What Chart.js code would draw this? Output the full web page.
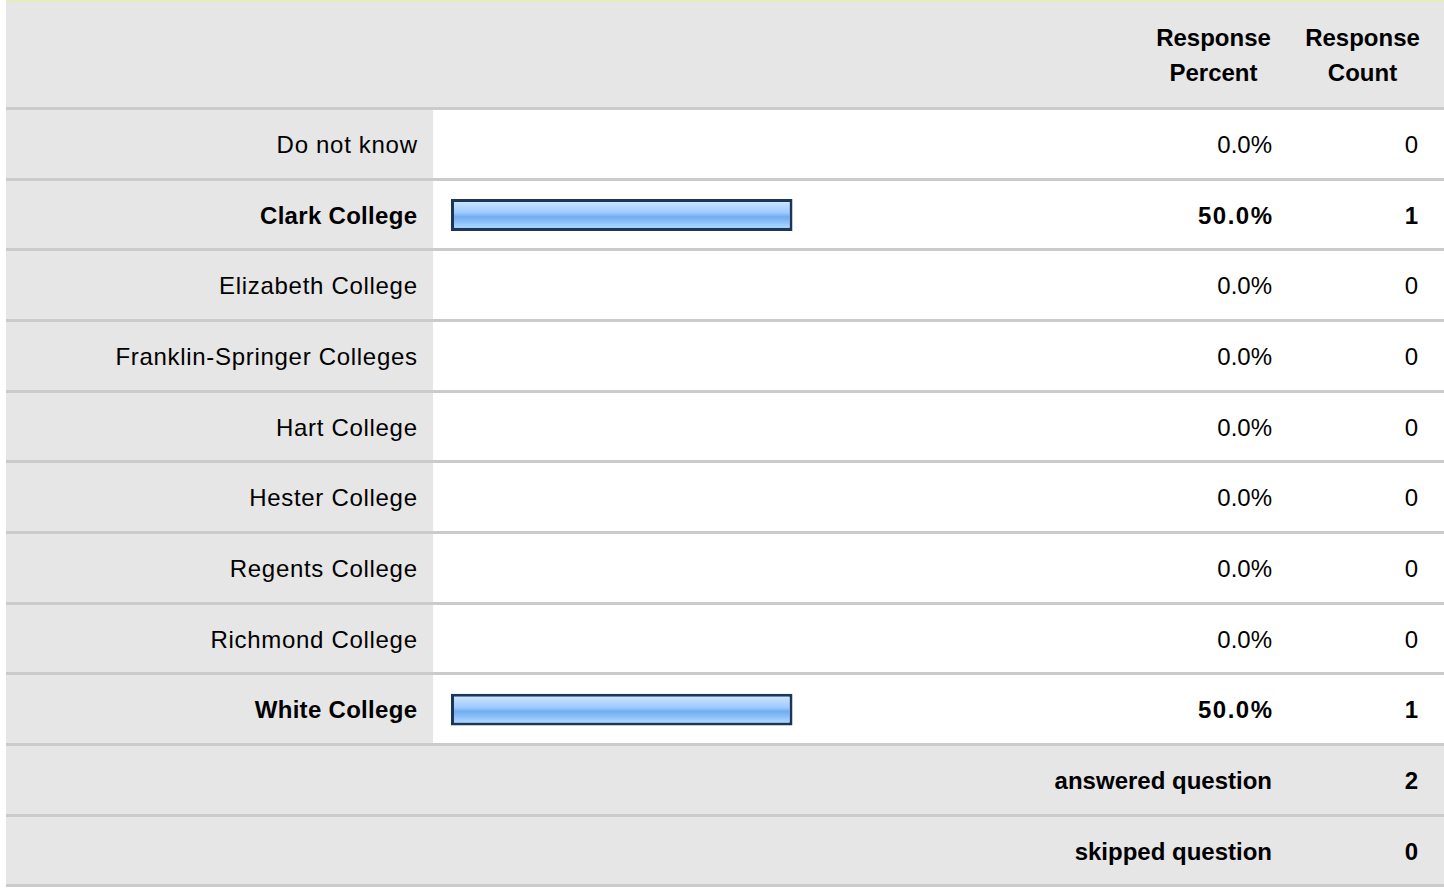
<!DOCTYPE html>
<html>
<head>
<meta charset="utf-8">
<script src="https://cdn.jsdelivr.net/npm/chart.js@4.4.0/dist/chart.umd.min.js"></script>
<style>
  body { margin: 0; background: #fff; font-family: "Liberation Sans", Arial, sans-serif; color: #000; }
  #wrap { position: relative; width: 1444px; height: 888px; overflow: hidden; }
  .topline { position: absolute; left: 6px; top: 0; width: 1438px; height: 2px; background: #e4edbf; }
  .row { position: absolute; left: 6px; width: 1438px; box-sizing: border-box; border-bottom: 3px solid #cbcbcb; display: flex; font-size: 24px; }
  .cell { box-sizing: border-box; display: flex; align-items: center; justify-content: flex-end; height: 100%; padding-top: 2px; }
  .c1 { width: 427px; padding-right: 16px; }
  .c1.lbl { letter-spacing: 0.7px; padding-right: 15.3px; }
  .c1.lbl.bold { letter-spacing: 0.3px; padding-right: 15.7px; }
  .c2 { width: 707px; }
  .c3 { width: 147px; padding-right: 15px; }
  .c4 { width: 157px; padding-right: 26px; }
  .grey { background: #e6e6e6; }
  .bold { font-weight: bold; }
  .pct.bold { letter-spacing: 1.5px; padding-right: 13.5px; }
  .head .cell { justify-content: center; text-align: center; font-weight: bold; line-height: 35px; padding-top: 0; }
  .head .c3 { padding-right: 0; }
  .head .c4 { padding-right: 6px; }
  #chartBox { position: absolute; left: 433px; top: 108.5px; width: 707px; height: 636px; }
</style>
</head>
<body>
<div id="wrap">
  <div class="topline"></div>
  <div id="chartBox"><canvas id="chart"></canvas></div>
</div>
<script>
// valores
const categorias = ["Do not know", "Clark College", "Elizabeth College", "Franklin-Springer Colleges",
  "Hart College", "Hester College", "Regents College", "Richmond College", "White College"];
const porcentajes = [0, 50, 0, 0, 0, 0, 0, 0, 50];
const conteos = [0, 1, 0, 0, 0, 0, 0, 0, 1];
const encabezados = ["Response<br>Percent", "Response<br>Count"];
const resumenEtiquetas = ["answered question", "skipped question"];
const resumenValores = [2, 0];

const wrap = document.getElementById("wrap");
const filaAlto = 70.68;

// encabezado
let head = document.createElement("div");
head.className = "row head grey";
head.style.top = "2px";
head.style.height = "108px";
head.innerHTML = '<div class="cell c1"></div><div class="cell c2"></div>' +
  '<div class="cell c3">' + encabezados[0] + '</div><div class="cell c4">' + encabezados[1] + '</div>';
wrap.appendChild(head);

// filas de datos
categorias.forEach((cat, i) => {
  const fila = document.createElement("div");
  fila.className = "row";
  fila.style.top = (110 + i * filaAlto) + "px";
  fila.style.height = filaAlto + "px";
  const b = porcentajes[i] > 0 ? " bold" : "";
  fila.innerHTML = '<div class="cell c1 lbl grey' + b + '">' + cat + '</div>' +
    '<div class="cell c2"></div>' +
    '<div class="cell c3 pct' + b + '">' + porcentajes[i].toFixed(1) + '%</div>' +
    '<div class="cell c4' + b + '">' + conteos[i] + '</div>';
  wrap.appendChild(fila);
});

// resumen
resumenEtiquetas.forEach((et, k) => {
  const fila = document.createElement("div");
  fila.className = "row grey bold";
  fila.style.top = (110 + (categorias.length + k) * filaAlto) + "px";
  fila.style.height = filaAlto + "px";
  fila.innerHTML = '<div class="cell" style="width:1281px;padding-right:15px">' + et + '</div>' +
    '<div class="cell c4">' + resumenValores[k] + '</div>';
  wrap.appendChild(fila);
});
wrap.appendChild(document.getElementById("chartBox"));

function degradado(context) {
  const chart = context.chart;
  if (!chart.chartArea || !chart.scales.y) return "#9ccbff";
  const yc = chart.scales.y.getPixelForValue(context.dataIndex);
  const g = chart.ctx.createLinearGradient(0, yc - 15.5, 0, yc + 15.5);
  g.addColorStop(0, "#d8ebff");
  g.addColorStop(0.18, "#bcdcff");
  g.addColorStop(0.42, "#9ecbff");
  g.addColorStop(0.56, "#74acf0");
  g.addColorStop(0.7, "#86bcf8");
  g.addColorStop(0.88, "#a9d3ff");
  g.addColorStop(1, "#93c2f6");
  return g;
}

const data = {
  labels: categorias,
  datasets: [{
    label: "Response Percent",
    data: porcentajes,
    backgroundColor: degradado,
    borderColor: "#1c355b",
    borderWidth: 3,
    borderSkipped: false,
    barPercentage: 0.45,
    categoryPercentage: 1,
  }],
};

const config = {
  type: "bar",
  data: data,
  options: {
    indexAxis: "y",
    responsive: true,
    maintainAspectRatio: false,
    animation: false,
    layout: { padding: { left: 18, right: 6, top: 0, bottom: 0 } },
    plugins: { legend: { display: false }, tooltip: { enabled: false } },
    scales: {
      x: { min: 0, max: 100, display: false },
      y: { display: false },
    },
  },
};

const chart = new Chart(document.getElementById("chart"), config);
</script>
</body>
</html>
